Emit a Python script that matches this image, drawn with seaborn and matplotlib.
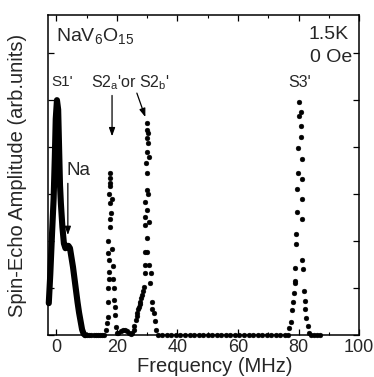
import matplotlib
matplotlib.use("Agg")
import matplotlib.pyplot as plt
from matplotlib.ticker import MultipleLocator
import numpy as np
import pandas as pd
import seaborn as sns

# S1' band (dense, drawn as a thick trace)
s1_freq = [-2.5, -2.0, -1.4, -0.9, -0.5, -0.2, 0.2, 0.6, 0.9, 1.2, 1.5, 2.0, 2.5,
           3.0, 3.5, 4.0, 4.5, 5.0, 5.5, 6.0, 6.5, 7.0, 7.5, 8.0, 8.5, 9.0, 9.5]
s1_amp = [0.68, 1.30, 2.20, 2.90, 3.80, 4.60, 5.00, 4.80, 4.00, 3.20, 2.80, 2.30, 1.95,
          1.85, 1.90, 1.90, 1.85, 1.65, 1.45, 1.20, 0.95, 0.70, 0.48, 0.30, 0.12, 0.03, 0.0]

# S2a' line
s2a_freq = [16.5, 16.8, 17.0, 17.1, 17.2, 17.4, 17.3, 17.5, 17.2, 17.2, 17.6, 17.7, 17.7,
            17.4, 17.7, 17.7, 17.7, 17.7, 18.4, 18.2, 18.5, 18.6, 18.7, 18.9, 19.2, 19.3,
            19.5, 19.7, 20.0]
s2a_amp = [0.10, 0.26, 0.38, 0.70, 1.00, 1.20, 1.34, 1.60, 1.74, 2.00, 2.30, 2.47, 2.81,
           3.00, 3.17, 3.23, 3.34, 3.44, 2.89, 2.60, 1.83, 1.47, 1.20, 1.00, 0.74, 0.60,
           0.43, 0.17, 0.05]

# small bump between the S2 lines
bump_freq = [20.5, 21.2, 21.9, 22.6, 23.3, 24.0, 24.5]
bump_amp = [0.05, 0.09, 0.10, 0.10, 0.09, 0.05, 0.02]

# S2b' line
s2b_freq = [25.0, 25.5, 25.8, 26.2, 26.5, 26.8, 27.1, 27.3, 27.6, 27.8, 28.1, 28.4, 28.6,
            28.9, 29.4, 29.3, 29.2, 29.9, 29.9, 29.4, 30.7, 29.4, 29.9, 29.3, 30.2, 29.9,
            30.0, 29.7, 30.7, 30.0, 30.4, 30.1, 30.2, 30.1, 30.1, 30.7, 31.2, 31.0, 31.7,
            31.7, 32.2, 32.7, 33.0]
s2b_amp = [0.05, 0.12, 0.20, 0.32, 0.40, 0.47, 0.55, 0.60, 0.66, 0.70, 0.78, 0.85, 0.93,
           1.02, 1.32, 1.49, 1.77, 1.77, 2.06, 2.34, 2.40, 2.51, 2.66, 2.83, 3.00, 3.08,
           3.45, 3.66, 3.78, 3.90, 4.08, 4.19, 4.30, 4.36, 4.52, 1.49, 1.32, 1.10, 0.70,
           0.55, 0.47, 0.30, 0.10]

# S3' line
s3_freq = [80.3, 80.8, 80.1, 80.8, 80.8, 79.9, 81.2, 79.9, 81.2, 79.6, 81.2, 79.6, 81.2,
           79.3, 79.3, 81.2, 79.0, 81.6, 79.0, 78.9, 78.5, 81.8, 78.2, 82.0, 82.3, 78.0,
           82.6, 77.6, 76.7, 83.2, 83.5]
s3_amp = [4.96, 4.75, 4.66, 4.45, 4.22, 3.98, 3.74, 3.45, 3.32, 3.10, 2.89, 2.62, 2.47,
          2.15, 1.95, 1.60, 1.42, 1.40, 1.16, 1.10, 0.90, 0.94, 0.71, 0.73, 0.55, 0.53,
          0.36, 0.28, 0.15, 0.20, 0.05]

# zero-signal sweep points
zero_freq = [9.5, 10.2, 10.9, 11.6, 12.3, 13.0, 13.7, 14.4, 15.1, 15.8,
             33.5, 35.0, 36.5, 38.0, 39.5, 41.0, 42.5, 44.0, 45.5, 47.0, 48.5, 50.0,
             51.5, 53.0, 54.5, 56.0, 57.5, 59.0, 60.5, 62.0, 63.5, 65.0, 66.5, 68.0,
             69.5, 71.0, 72.5, 74.0, 75.5, 76.5, 84.0, 85.0, 86.0, 87.0]

x_ticks = [0, 20, 40, 60, 80, 100]

sns.set_style("ticks")
plt.rcParams["font.family"] = ["Liberation Sans", "DejaVu Sans"]
plt.rcParams["mathtext.fontset"] = "custom"
plt.rcParams["mathtext.rm"] = "Liberation Sans"
plt.rcParams["mathtext.it"] = "Liberation Sans"

fig = plt.figure(figsize=(3.74, 3.77), dpi=100)
ax = fig.add_axes([0.128, 0.111, 0.832, 0.849])

dots = pd.DataFrame({
    "freq": s2a_freq + bump_freq + s2b_freq + s3_freq + zero_freq,
    "amp": s2a_amp + bump_amp + s2b_amp + s3_amp + [0.0] * len(zero_freq),
})
band = pd.DataFrame({"freq": s1_freq, "amp": s1_amp})

sns.lineplot(data=band, x="freq", y="amp", ax=ax, color="black", lw=4.4,
             sort=False, estimator=None, solid_capstyle="round", clip_on=False)
sns.scatterplot(data=dots, x="freq", y="amp", ax=ax, color="black", s=12,
                edgecolor="black", linewidth=0.3, clip_on=False, zorder=3)

ax.set_xlim(-2.8, 100)
ax.set_ylim(0, 6.81)
ax.set_xticks(x_ticks)
ax.xaxis.set_minor_locator(MultipleLocator(10))
ax.yaxis.set_major_locator(MultipleLocator(1))
ax.set_yticklabels([])
ax.tick_params(which="both", direction="in", top=True, right=True, color="black")
ax.tick_params(which="major", length=4, width=0.9, labelsize=13, pad=3)
ax.tick_params(which="minor", length=2.5, width=0.8)
for sp in ax.spines.values():
    sp.set_linewidth(1.1)
    sp.set_color("black")

ax.set_xlabel("Frequency (MHz)", fontsize=14.5)
ax.xaxis.set_label_coords(0.537, -0.068)
ax.set_ylabel("Spin-Echo Amplitude (arb.units)", fontsize=14.5)
ax.yaxis.set_label_coords(-0.068, 0.5)

ax.text(0.026, 0.934, r"NaV$_6$O$_{15}$", transform=ax.transAxes, fontsize=14,
        ha="left", va="center")
ax.text(0.965, 0.94, "1.5K", transform=ax.transAxes, fontsize=14,
        ha="right", va="center")
ax.text(0.977, 0.869, "0 Oe", transform=ax.transAxes, fontsize=14,
        ha="right", va="center")
ax.text(-1.8, 5.38, "S1'", fontsize=11, ha="left", va="center")
ax.text(11.6, 5.38, r"S2$_{\rm a}$'or S2$_{\rm b}$'", fontsize=11.5, ha="left", va="center")
ax.text(76.5, 5.38, "S3'", fontsize=11.5, ha="left", va="center")
ax.text(3.4, 3.5, "Na", fontsize=13.5, ha="left", va="center")

arrow = dict(arrowstyle="-|>,head_length=0.5,head_width=0.18", color="black", lw=0.9,
             shrinkA=0, shrinkB=0)
ax.annotate("", xy=(3.8, 2.13), xytext=(3.8, 3.23), arrowprops=arrow)
ax.annotate("", xy=(18.4, 4.23), xytext=(18.4, 5.1), arrowprops=arrow)
ax.annotate("", xy=(29.4, 4.64), xytext=(26.6, 5.15), arrowprops=arrow)

fig.savefig("out.png", dpi=100)
